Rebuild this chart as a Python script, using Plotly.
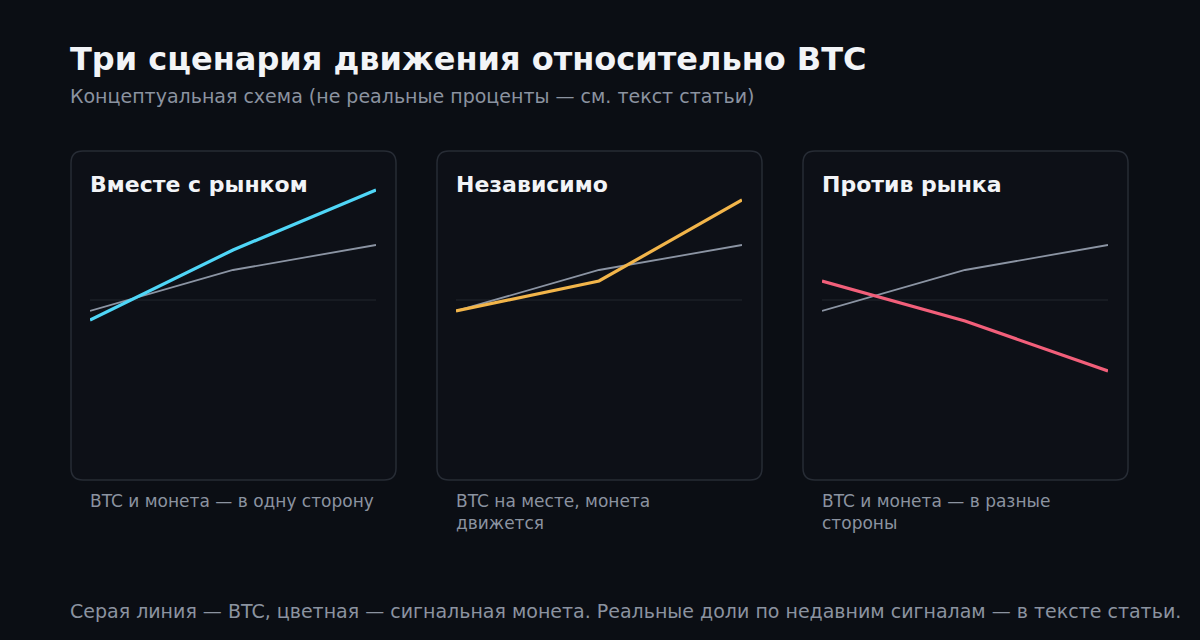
import plotly.graph_objects as go

W, H = 1200, 640

steps = [0, 1, 2]
btc = [-1.1, 3.0, 5.5]
coin_with = [-2.0, 5.0, 11.0]
coin_indep = [-1.1, 1.9, 10.0]
coin_against = [1.9, -2.1, -7.1]

panel_titles = ["Вместе с рынком", "Независимо", "Против рынка"]
captions = ["BTC и монета — в одну сторону",
            "BTC на месте, монета<br>движется",
            "BTC и монета — в разные<br>стороны"]
coins = [coin_with, coin_indep, coin_against]
colors = ["#4fd6f7", "#f2b54a", "#f25f7a"]

BG = "#0b0e14"
PANEL = "#0d1017"
BORDER = "#272c35"
GRAY = "#8b94a3"
FONT = "DejaVu Sans"


def px(x):
    return x / W


def py(y):
    return 1 - y / H


def rounded(x0, y0, x1, y1, r):
    # corners given in pixels, path written in paper coords
    pts = [("M", x0 + r, y0), ("L", x1 - r, y0), ("Q", x1, y0, x1, y0 + r),
           ("L", x1, y1 - r), ("Q", x1, y1, x1 - r, y1), ("L", x0 + r, y1),
           ("Q", x0, y1, x0, y1 - r), ("L", x0, y0 + r), ("Q", x0, y0, x0 + r, y0)]
    out = []
    for p in pts:
        if p[0] == "Q":
            out.append(f"Q{px(p[1]):.5f},{py(p[2]):.5f} {px(p[3]):.5f},{py(p[4]):.5f}")
        else:
            out.append(f"{p[0]}{px(p[1]):.5f},{py(p[2]):.5f}")
    return " ".join(out) + " Z"


fig = go.Figure()
panel_left = [71, 437, 803]
shapes = []
annotations = []

for i in range(3):
    left = panel_left[i]
    xa = "x" if i == 0 else f"x{i+1}"
    ya = "y" if i == 0 else f"y{i+1}"
    shapes.append(dict(type="path", xref="paper", yref="paper",
                       path=rounded(left, 151, left + 325, 480, 12),
                       fillcolor=PANEL, line=dict(color=BORDER, width=1.5),
                       layer="below"))
    # baseline
    shapes.append(dict(type="line", xref=xa, yref=ya, x0=0, x1=2, y0=0, y1=0,
                       line=dict(color="#22262e", width=1), layer="below"))
    fig.add_trace(go.Scatter(x=steps, y=btc, mode="lines", xaxis=xa, yaxis=ya,
                             line=dict(color=GRAY, width=1.8), showlegend=False,
                             hoverinfo="skip"))
    fig.add_trace(go.Scatter(x=steps, y=coins[i], mode="lines", xaxis=xa, yaxis=ya,
                             line=dict(color=colors[i], width=3.2), showlegend=False,
                             hoverinfo="skip"))
    annotations.append(dict(text=f"<b>{panel_titles[i]}</b>", xref="paper", yref="paper",
                            x=px(left + 17), y=py(184), xanchor="left", yanchor="middle",
                            showarrow=False, font=dict(size=22, color="#f2f4f7", family=FONT)))
    annotations.append(dict(text=captions[i], xref="paper", yref="paper",
                            x=px(left + 17), y=py(489), xanchor="left", yanchor="top",
                            align="left", showarrow=False,
                            font=dict(size=17, color="#8b93a0", family=FONT)))

annotations += [
    dict(text="<b>Три сценария движения относительно BTC</b>", xref="paper", yref="paper",
         x=px(68), y=py(59), xanchor="left", yanchor="middle", showarrow=False,
         font=dict(size=32, color="#f2f4f7", family=FONT)),
    dict(text="Концептуальная схема (не реальные проценты — см. текст статьи)",
         xref="paper", yref="paper", x=px(68), y=py(96), xanchor="left", yanchor="middle",
         showarrow=False, font=dict(size=19, color="#8b93a0", family=FONT)),
    dict(text="Серая линия — BTC, цветная — сигнальная монета. Реальные доли по недавним сигналам — в тексте статьи.",
         xref="paper", yref="paper", x=px(68), y=py(611), xanchor="left", yanchor="middle",
         showarrow=False, font=dict(size=19, color="#8b93a0", family=FONT)),
]

axis_common = dict(showgrid=False, zeroline=False, showticklabels=False, showline=False,
                   fixedrange=True)
layout = dict(width=W, height=H, paper_bgcolor=BG, plot_bgcolor="rgba(0,0,0,0)",
              margin=dict(l=0, r=0, t=0, b=0), shapes=shapes, annotations=annotations,
              font=dict(family=FONT))
for i in range(3):
    left = panel_left[i] + 19
    sfx = "" if i == 0 else str(i + 1)
    layout[f"xaxis{sfx}"] = dict(domain=[px(left), px(left + 286)], range=[0, 2],
                                 anchor=f"y{sfx}", **axis_common)
    layout[f"yaxis{sfx}"] = dict(domain=[py(470), py(180)], range=[-17, 12],
                                 anchor=f"x{sfx}", **axis_common)
fig.update_layout(**layout)

fig.write_html("out.html", config=dict(displayModeBar=False),
               post_script="document.body.style.margin='0';document.body.style.background='#0b0e14';")
